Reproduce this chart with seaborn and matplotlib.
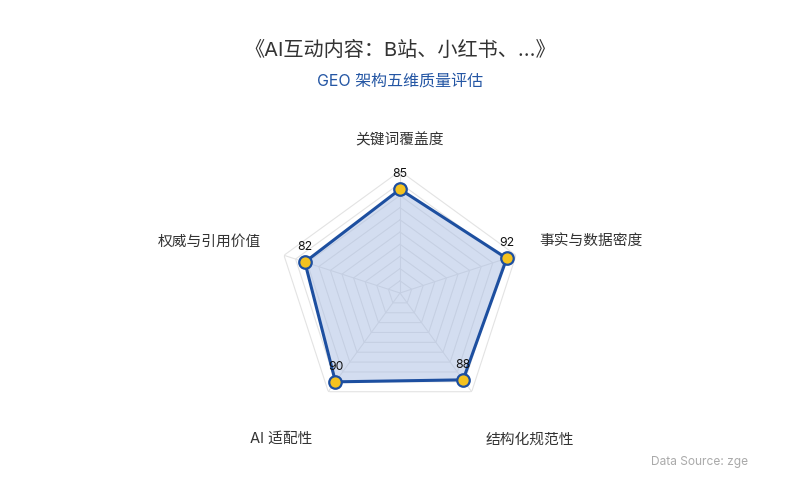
import numpy as np
import pandas as pd
import matplotlib
matplotlib.use("Agg")
import matplotlib.pyplot as plt
import seaborn as sns

# ---- data ----
dimensions = ["关键词覆盖度", "事实与数据密度", "结构化规范性", "AI 适配性", "权威与引用价值"]
scores = [85, 92, 88, 90, 82]
max_score = 100
ring_levels = [10, 20, 30, 40, 50, 60, 70, 80, 90, 100]
title_text = "《AI互动内容：B站、小红书、...》"
subtitle_text = "GEO 架构五维质量评估"
source_text = "Data Source: zge"

sns.set_theme(style="white")
plt.rcParams['font.family'] = ['Inter', 'Noto Sans CJK SC', 'DejaVu Sans']

LINE = "#1d4fa0"
FILL = "#a9bde3"
MARK = "#f4c21f"
GRID = "#e3e3e3"

n = len(dimensions)
angles = np.linspace(0, 2 * np.pi, n, endpoint=False)

fig = plt.figure(figsize=(8, 5), dpi=100)
ax = fig.add_axes([0.3475, 0.170, 0.305, 0.488], projection="polar")
ax.set_theta_zero_location("N")
ax.set_theta_direction(-1)
ax.set_ylim(0, max_score)
ax.grid(False)
ax.spines["polar"].set_visible(False)
ax.set_xticks([])
ax.set_yticks([])
ax.patch.set_alpha(0)

closed_angles = np.append(angles, angles[0])
for lv in ring_levels:
    ax.plot(closed_angles, [lv] * (n + 1), color=GRID, lw=0.8, zorder=1)
for a in angles:
    ax.plot([a, a], [0, max_score], color=GRID, lw=0.8, zorder=1)

df = pd.DataFrame({"angle": list(angles) + [angles[0]],
                   "score": scores + [scores[0]]})
ax.fill(df["angle"], df["score"], color=FILL, alpha=0.5, zorder=2, lw=0)
sns.lineplot(data=df, x="angle", y="score", sort=False, ax=ax,
             color=LINE, lw=2.2, zorder=3, estimator=None)
ax.plot(angles, scores, ls="none", marker="o", markersize=9,
        markerfacecolor=MARK, markeredgecolor=LINE, markeredgewidth=1.6, zorder=4)
ax.set_xlabel("")
ax.set_ylabel("")

# value labels
for a, v in zip(angles, scores):
    ax.annotate(str(v), (a, v), xytext=(0, 15), textcoords="offset pixels",
                ha="center", va="center", fontsize=8.8, color="#111111", zorder=5)

# dimension labels (offsets in pixels from outer vertex)
label_offsets = [(0, 31), (75, 14), (58, -48), (-47, -47), (-75, 14)]
for a, name, off in zip(angles, dimensions, label_offsets):
    ax.annotate(name, (a, max_score), xytext=off, textcoords="offset pixels",
                ha="center", va="center", fontsize=10.6, color="#333333",
                annotation_clip=False)

fig.text(0.5, 1 - 50 / 500, title_text, ha="center", va="center",
         fontsize=14.5, color="#333333")
fig.text(0.5, 1 - 81 / 500, subtitle_text, ha="center", va="center",
         fontsize=11.5, color="#2456a4")
fig.text(651 / 800, 1 - 462 / 500, source_text, ha="left", va="center",
         fontsize=8.6, color="#aaaaaa")

fig.savefig("out.png", dpi=100, facecolor="white")
